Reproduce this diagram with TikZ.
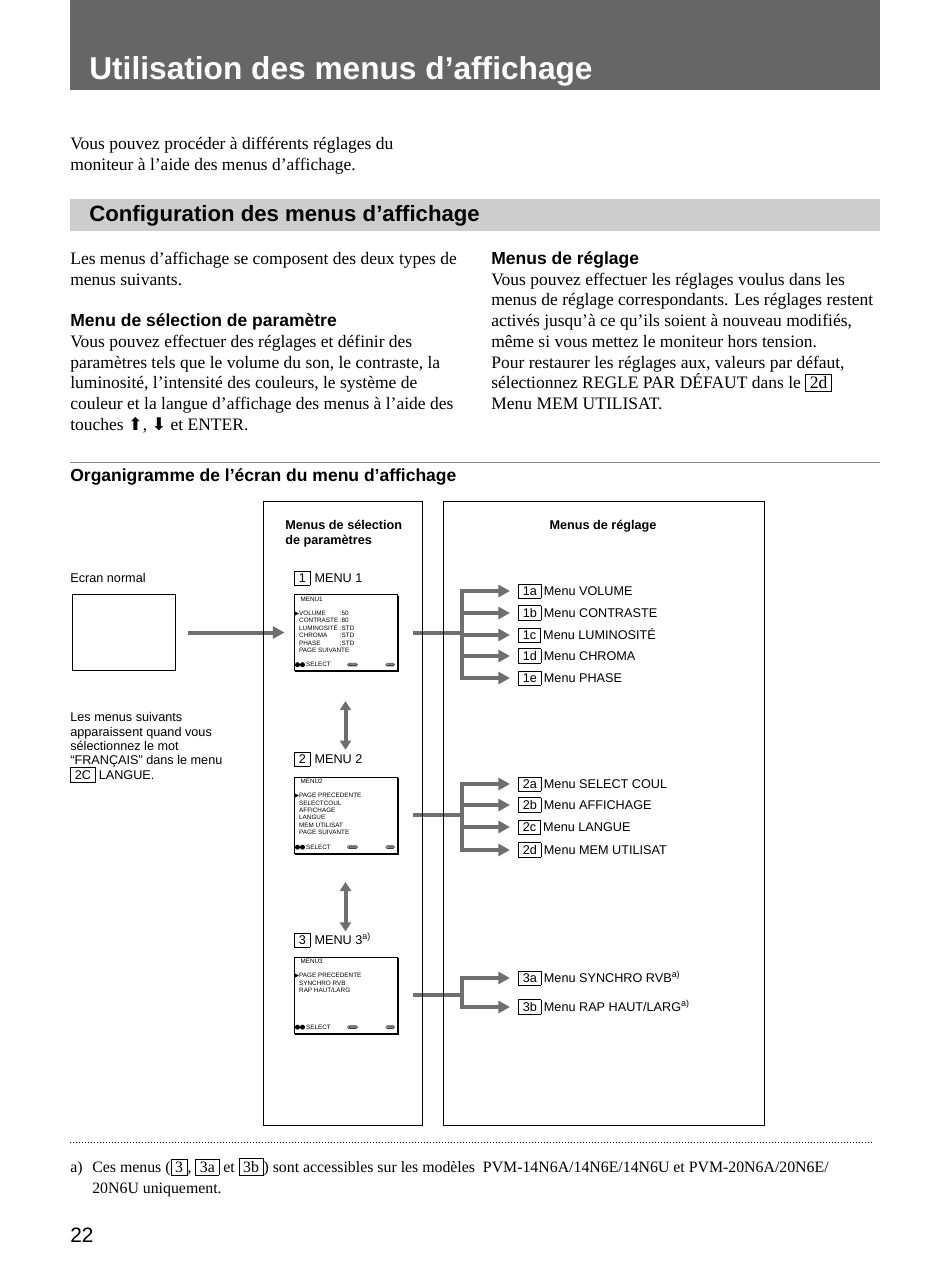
\documentclass[tikz,border=0pt]{standalone}
\usepackage{fontspec}
\setmainfont{Liberation Serif}
\setsansfont{Liberation Sans}
\newfontfamily\symboles{DejaVu Sans}
\usetikzlibrary{arrows.meta, positioning}

\definecolor{bandeau}{HTML}{666666}
\definecolor{bandeauclair}{HTML}{CDCDCD}
\definecolor{gris}{HTML}{6F6F6F}

\lineskiplimit=-4pt
% touche encadree (1a, 2d ...)
\newcommand{\touche}[1]{{\setlength{\fboxsep}{1.4pt}\setlength{\fboxrule}{0.4pt}\fbox{\hspace{0.9pt}#1\hspace{0.9pt}}}}
\newcommand{\marque}{{\symboles\fontsize{3.4}{3.4}\selectfont ▶}}

\begin{document}
\begin{tikzpicture}[x=0.6pt, y=-0.6pt,
    titre/.style={font=\sffamily\bfseries\fontsize{19}{23}\selectfont, text=white, anchor=base west, inner sep=0pt},
    soustitre/.style={font=\sffamily\bfseries\fontsize{13.3}{16}\selectfont, anchor=base west, inner sep=0pt},
    rubrique/.style={font=\sffamily\bfseries\fontsize{10.5}{12.45}\selectfont, anchor=base west, inner sep=0pt},
    corps/.style={font=\fontsize{10.5}{12.45}\selectfont, align=left, anchor=north west, inner sep=0pt},
    legende/.style={font=\sffamily\fontsize{7.6}{9}\selectfont, inner sep=0pt},
    entete/.style={font=\sffamily\bfseries\fontsize{7.6}{9}\selectfont, align=left, inner sep=0pt},
    ecran/.style={draw, line width=0.6pt, minimum width=61.8pt, minimum height=45.6pt, inner sep=0pt},
    affichage/.style={font=\sffamily\fontsize{3.8}{4.4}\selectfont, inner sep=0pt, anchor=north west},
    bouton/.style={fill=black!75, text=white, rounded corners=1pt, inner xsep=0.5pt, inner ysep=0.5pt, font=\sffamily\fontsize{1.6}{2}\selectfont},
    fleche/.style={draw=gris, line width=2.4pt, -{Triangle[length=7pt, width=7.2pt]}},
    navette/.style={draw=gris, line width=2.4pt, {Triangle[length=5.5pt, width=6.6pt]}-{Triangle[length=5.5pt, width=6.6pt]}},
    trait/.style={draw=gris, line width=2.4pt}
]
\useasboundingbox (0,0) rectangle (950,1268);

% titre de la page
\fill[bandeau] (70,0) rectangle (880,90);
\node[titre] (titre) at (89,79) {Utilisation des menus d’affichage};

\node[corps] (intro) at (70,134.5) {\strut Vous pouvez procéder à différents réglages du\\moniteur à l’aide des menus d’affichage.};

\fill[bandeauclair] (70,199) rectangle (880,231);
\node[soustitre] (config) at (89,221) {Configuration des menus d’affichage};

% deux colonnes de texte
\node[corps] (gauche) at (70,249.5) {\strut Les menus d’affichage se composent des deux types de\\menus suivants.\\[12.45pt]{\sffamily\bfseries Menu de sélection de paramètre}\\Vous pouvez effectuer des réglages et définir des\\paramètres tels que le volume du son, le contraste, la\\luminosité, l’intensité des couleurs, le système de\\couleur et la langue d’affichage des menus à l’aide des\\touches {\symboles ⬆}, {\symboles ⬇} et ENTER.};
\node[corps] (droite) at (491,249.5) {\strut{\sffamily\bfseries Menus de réglage}\\Vous pouvez effectuer les réglages voulus dans les\\menus de réglage correspondants. Les réglages restent\\activés jusqu’à ce qu’ils soient à nouveau modifiés,\\même si vous mettez le moniteur hors tension.\\Pour restaurer les réglages aux, valeurs par défaut,\\sélectionnez REGLE PAR DÉFAUT dans le \touche{2d}\\Menu MEM UTILISAT.};

\draw[black!45, line width=0.5pt] (70,462) -- (880,462);
\node[rubrique] (organi) at (70,481) {Organigramme de l’écran du menu d’affichage};

% organigramme
\node[entete, anchor=north west] (selhead) at (285,519) {\strut Menus de sélection\\de paramètres};
\node[entete, anchor=base] (reghead) at (603,529.5) {Menus de réglage};

\node[legende, anchor=base west] (normal) at (70,582.5) {Ecran normal};
\node[ecran] (ecran0) at (123.5,632.5) {};

\node[ecran] (scr1) at (345.5,632.5) {};
\node[ecran] (scr2) at (345.5,815) {};
\node[ecran] (scr3) at (345.5,995) {};
\node[legende, anchor=base west] (lab1) at (294,582.5) {\touche{1}\hspace{2.5pt}MENU 1};
\node[legende, anchor=base west] (lab2) at (294,763.5) {\touche{2}\hspace{2.5pt}MENU 2};
\node[legende, anchor=base west] (lab3) at (294,944.5) {\touche{3}\hspace{2.5pt}MENU 3\textsuperscript{a)}};

% contenu des ecrans
\node[affichage, anchor=west] at ([xshift=4pt, yshift=-3pt]scr1.north west) {MENU1};
\node[affichage] at ([xshift=0.6pt, yshift=-9.6pt]scr1.north west) {\begin{tabular}{@{}l@{\hspace{1pt}}l@{}}
    \marque VOLUME & :50\\ \phantom{\marque}CONTRASTE & :80\\ \phantom{\marque}LUMINOSITÉ & :STD\\
    \phantom{\marque}CHROMA & :STD\\ \phantom{\marque}PHASE & :STD\\ \multicolumn{2}{@{}l@{}}{\phantom{\marque}PAGE SUIVANTE}
  \end{tabular}};
\node[affichage, anchor=west] at ([xshift=4pt, yshift=-3pt]scr2.north west) {MENU2};
\node[affichage] at ([xshift=0.6pt, yshift=-9.6pt]scr2.north west) {\begin{tabular}{@{}l@{}}
    \marque PAGE PRECEDENTE\\ \phantom{\marque}SELECTCOUL\\ \phantom{\marque}AFFICHAGE\\
    \phantom{\marque}LANGUE\\ \phantom{\marque}MEM UTILISAT\\ \phantom{\marque}PAGE SUIVANTE
  \end{tabular}};
\node[affichage, anchor=west] at ([xshift=4pt, yshift=-3pt]scr3.north west) {MENU3};
\node[affichage] at ([xshift=0.6pt, yshift=-9.6pt]scr3.north west) {\begin{tabular}{@{}l@{}}
    \marque PAGE PRECEDENTE\\ \phantom{\marque}SYNCHRO RVB\\ \phantom{\marque}RAP HAUT/LARG
  \end{tabular}};
\foreach \s in {scr1,scr2,scr3} {
  \fill ([xshift=2.4pt, yshift=3.8pt]\s.south west) circle (1.5pt);
  \fill ([xshift=5.4pt, yshift=3.8pt]\s.south west) circle (1.5pt);
  \node[affichage, anchor=west] at ([xshift=7.4pt, yshift=3.8pt]\s.south west) {SELECT};
  \node[bouton] at ([xshift=35.4pt, yshift=3.8pt]\s.south west) {ENTER};
  \node[bouton] at ([xshift=-4.4pt, yshift=3.8pt]\s.south east) {MENU};
  \draw[line width=0.9pt] ([xshift=0.3pt, yshift=-1pt]\s.north east) -- ([shift={(0.3pt,-0.3pt)}]\s.south east) -- ([xshift=1pt, yshift=-0.3pt]\s.south west);
}

% fleches entre les menus de selection
\draw[fleche] ([xshift=7.2pt]ecran0.east) -- ([xshift=-5.4pt]scr1.west);
\draw[navette, shorten <=18pt, shorten >=16pt] (scr1.south) -- (scr2.north);
\draw[navette, shorten <=17pt, shorten >=15pt] (scr2.south) -- (scr3.north);

% menus de reglage
\coordinate (v) at (462,0);
\node[legende, anchor=west] (m1a) at (518,591) {\touche{1a}\hspace{1.5pt}Menu VOLUME};
\node[legende, anchor=west] (m1b) at (518,613) {\touche{1b}\hspace{1.5pt}Menu CONTRASTE};
\node[legende, anchor=west] (m1c) at (518,635) {\touche{1c}\hspace{1.5pt}Menu LUMINOSITÉ};
\node[legende, anchor=west] (m1d) at (518,656) {\touche{1d}\hspace{1.5pt}Menu CHROMA};
\node[legende, anchor=west] (m1e) at (518,678) {\touche{1e}\hspace{1.5pt}Menu PHASE};
\node[legende, anchor=west] (m2a) at (518,784) {\touche{2a}\hspace{1.5pt}Menu SELECT COUL};
\node[legende, anchor=west] (m2b) at (518,805) {\touche{2b}\hspace{1.5pt}Menu AFFICHAGE};
\node[legende, anchor=west] (m2c) at (518,827) {\touche{2c}\hspace{1.5pt}Menu LANGUE};
\node[legende, anchor=west] (m2d) at (518,850) {\touche{2d}\hspace{1.5pt}Menu MEM UTILISAT};
\node[legende, anchor=west] (m3a) at (518,978) {\touche{3a}\hspace{1.5pt}Menu SYNCHRO RVB\textsuperscript{a)}};
\node[legende, anchor=west] (m3b) at (518,1007) {\touche{3b}\hspace{1.5pt}Menu RAP HAUT/LARG\textsuperscript{a)}};

\draw[trait] ([xshift=9pt]scr1.east) -- (scr1.east -| v);
\draw[trait, line cap=rect] (m1a -| v) -- (m1e -| v);
\foreach \m in {m1a,m1b,m1c,m1d,m1e} \draw[fleche] (\m -| v) -- ([xshift=-4.8pt]\m.west);
\draw[trait] ([xshift=9pt]scr2.east) -- (scr2.east -| v);
\draw[trait, line cap=rect] (m2a -| v) -- (m2d -| v);
\foreach \m in {m2a,m2b,m2c,m2d} \draw[fleche] (\m -| v) -- ([xshift=-4.8pt]\m.west);
\draw[trait] ([xshift=9pt]scr3.east) -- (scr3.east -| v);
\draw[trait, line cap=rect] (m3a -| v) -- (m3b -| v);
\foreach \m in {m3a,m3b} \draw[fleche] (\m -| v) -- ([xshift=-4.8pt]\m.west);

\node[legende, align=left, anchor=north west, font=\sffamily\fontsize{7.6}{8.6}\selectfont] (remarque) at (70,711.5) {\strut Les menus suivants\\apparaissent quand vous\\sélectionnez le mot\\“FRANÇAIS” dans le menu\\\touche{2C}\hspace{2pt}LANGUE.};

% cadres par-dessus les fleches
\draw[line width=0.5pt] (263,501) rectangle (422,1125);
\draw[line width=0.5pt] (443,501) rectangle (764,1125);

% note de bas de page
\draw[line width=0.6pt, dash pattern=on 0.6pt off 1.2pt] (70,1142) -- (873,1142);
\node[corps, anchor=base west, font=\fontsize{9.5}{12.6}\selectfont] (renvoi) at (70,1172) {a)};
\node[corps, font=\fontsize{9.5}{12.6}\selectfont] (note) at (92,1157.3) {\strut Ces menus (\touche{3}, \touche{3a} et \touche{3b}) sont accessibles sur les modèles\ \ PVM-14N6A/14N6E/14N6U et PVM-20N6A/20N6E/\\20N6U uniquement.};
\node[font=\sffamily\fontsize{12.5}{15}\selectfont, anchor=base west, inner sep=0pt] (page) at (70,1242) {22};
\end{tikzpicture}
\end{document}
